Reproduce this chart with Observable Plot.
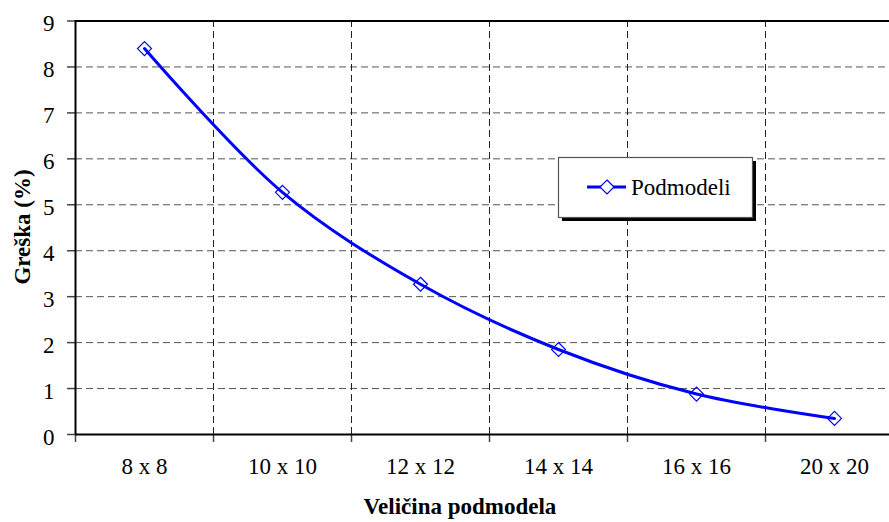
<!DOCTYPE html>
<html><head><meta charset="utf-8">
<script src="https://cdn.jsdelivr.net/npm/d3@7"></script>
<script src="https://cdn.jsdelivr.net/npm/@observablehq/plot@0.6"></script>
<style>body{margin:0;background:#fff;overflow:hidden} svg{display:block}</style>
</head><body><div id="chart"></div>
<script>
const categories = ["8 x 8", "10 x 10", "12 x 12", "14 x 14", "16 x 16", "20 x 20"];
const errors = [8.4, 5.27, 3.27, 1.85, 0.88, 0.35];
const yTicks = [0, 1, 2, 3, 4, 5, 6, 7, 8, 9];
const seriesName = "Podmodeli";
const xTitle = "Veličina podmodela";
const yTitle = "Greška (%)";

const FONT = "Liberation Serif, Times New Roman, serif";
const FS = 23;
const BLUE = "#0000ff";

const data = categories.map((c, i) => ({pos: i + 0.5, c, v: errors[i]}));
const bounds = d3.range(0, categories.length + 1);
const innerBounds = bounds.slice(1, -1);

const plot = Plot.plot({
  width: 889, height: 522,
  marginLeft: 75, marginTop: 20, marginBottom: 88, marginRight: 0,
  style: {fontFamily: FONT, fontSize: FS + "px", background: "#fff", color: "#000", overflow: "hidden"},
  x: {type: "linear", domain: [0, categories.length], range: [75, 903]},
  y: {domain: [0, 9], range: [434, 20.5]},
  marks: [
    Plot.gridY(yTicks.slice(1, -1), {stroke: "#555", strokeOpacity: 1, strokeDasharray: "7,4", strokeWidth: 1}),
    Plot.gridX(innerBounds, {stroke: "#222", strokeOpacity: 1, strokeDasharray: "7,4", strokeWidth: 1}),
    Plot.axisY(yTicks, {tickSize: 8, tickFormat: () => "", label: null, stroke: "#444", strokeWidth: 1.5}),
    Plot.axisX(bounds, {tickSize: 8, tickFormat: () => "", label: null, stroke: "#444", strokeWidth: 1.5}),
    Plot.text(yTicks, {y: d => d, text: d => String(d), frameAnchor: "left", textAnchor: "end", dx: -21, dy: 3, fontSize: FS, fontFamily: FONT}),
    Plot.text(data, {x: "pos", text: "c", frameAnchor: "bottom", dy: 39, fontSize: FS, fontFamily: FONT}),
    Plot.ruleY([9], {stroke: "#000", strokeWidth: 2}),
    Plot.ruleY([0], {stroke: "#000", strokeWidth: 2}),
    Plot.ruleX([0], {stroke: "#000", strokeWidth: 2}),
    Plot.line(data, {x: "pos", y: "v", stroke: BLUE, strokeWidth: 3, curve: "catmull-rom"}),
    Plot.dot(data, {x: "pos", y: "v", symbol: "diamond2", r: 6.3, stroke: BLUE, fill: "none", strokeWidth: 1.2})
  ]
});

const svg = d3.select(plot);
// axis titles
svg.append("text").attr("x", 460).attr("y", 514).attr("text-anchor", "middle")
  .attr("font-family", FONT).attr("font-size", FS).attr("font-weight", "bold").text(xTitle);
svg.append("text").attr("transform", "translate(30,227) rotate(-90)").attr("text-anchor", "middle")
  .attr("font-family", FONT).attr("font-size", FS).attr("font-weight", "bold").text(yTitle);

// legend
const lg = svg.append("g");
lg.append("rect").attr("x", 562).attr("y", 161).attr("width", 194).attr("height", 60).attr("fill", "#000");
lg.append("rect").attr("x", 558.5).attr("y", 157.5).attr("width", 194).attr("height", 60)
  .attr("fill", "#fff").attr("stroke", "#555").attr("stroke-width", 1.2);
lg.append("line").attr("x1", 587).attr("x2", 626).attr("y1", 187).attr("y2", 187)
  .attr("stroke", BLUE).attr("stroke-width", 3);
lg.append("path").attr("transform", "translate(607,187)")
  .attr("d", d3.symbol(d3.symbolDiamond2, Math.PI * 6.3 * 6.3)())
  .attr("fill", "#fff").attr("stroke", BLUE).attr("stroke-width", 1.2);
lg.append("text").attr("x", 631).attr("y", 195).attr("text-anchor", "start")
  .attr("font-family", FONT).attr("font-size", FS).text(seriesName);

document.getElementById("chart").appendChild(plot);
</script>
</body></html>
